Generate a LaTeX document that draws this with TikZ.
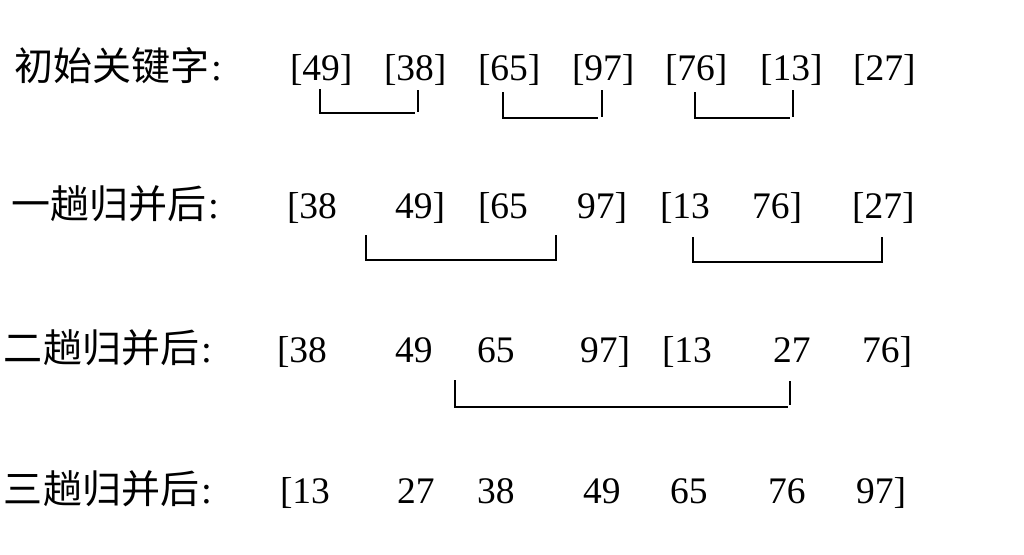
\documentclass[tikz,border=0pt]{standalone}
\usepackage{fontspec}
\setmainfont{Liberation Serif}
\newfontfamily\cjk{Noto Sans CJK SC}
\begin{document}
\begin{tikzpicture}[x=1pt,y=-1pt,
  num/.style={anchor=base west,inner sep=0pt,outer sep=0pt,font=\fontsize{37.5}{40}\selectfont},
  lab/.style={anchor=base west,inner sep=0pt,outer sep=0pt,font=\fontsize{39}{42}\selectfont\cjk},
  brk/.style={draw=black,line width=1.3pt}]
\useasboundingbox[fill=white] (0,0) rectangle (1024,554);
% row 1
\node[lab] (l1) at (14,80) {初始关键字\hspace{2pt}{\rmfamily:}};
\node[num] (r1a) at (290,80) {[49]};
\node[num] (r1b) at (384,80) {[38]};
\node[num] (r1c) at (478,80) {[65]};
\node[num] (r1d) at (572,80) {[97]};
\node[num] (r1e) at (665,80) {[76]};
\node[num] (r1f) at (760,80) {[13]};
\node[num] (r1g) at (853,80) {[27]};
% row 2
\node[lab] (l2) at (11,218) {一趟归并后\hspace{2pt}{\rmfamily:}};
\node[num] (r2a) at (287,218) {[38};
\node[num] (r2b) at (395,218) {49]};
\node[num] (r2c) at (478,218) {[65};
\node[num] (r2d) at (577,218) {97]};
\node[num] (r2e) at (660,218) {[13};
\node[num] (r2f) at (752,218) {76]};
\node[num] (r2g) at (852,218) {[27]};
% row 3
\node[lab] (l3) at (4,362) {二趟归并后\hspace{2pt}{\rmfamily:}};
\node[num] (r3a) at (277,362) {[38};
\node[num] (r3b) at (395,362) {49};
\node[num] (r3c) at (477,362) {65};
\node[num] (r3d) at (580,362) {97]};
\node[num] (r3e) at (662,362) {[13};
\node[num] (r3f) at (773,362) {27};
\node[num] (r3g) at (862,362) {76]};
% row 4
\node[lab] (l4) at (4,503) {三趟归并后\hspace{2pt}{\rmfamily:}};
\node[num] (r4a) at (280,503) {[13};
\node[num] (r4b) at (397,503) {27};
\node[num] (r4c) at (477,503) {38};
\node[num] (r4d) at (583,503) {49};
\node[num] (r4e) at (670,503) {65};
\node[num] (r4f) at (768,503) {76};
\node[num] (r4g) at (856,503) {97]};
% bracket coordinates
\coordinate (b1s) at (320,89);  \coordinate (b1e) at (415,113);
\coordinate (b1t) at (418,90);  \coordinate (b1u) at (418,112);
\coordinate (b2s) at (503,92);  \coordinate (b2e) at (598,118);
\coordinate (b2t) at (602,90);  \coordinate (b2u) at (602,117);
\coordinate (b3s) at (695,92);  \coordinate (b3e) at (790,118);
\coordinate (b3t) at (793,90);  \coordinate (b3u) at (793,117);
\coordinate (b4s) at (366,235); \coordinate (b4e) at (556,235);
\coordinate (b5s) at (693,237); \coordinate (b5e) at (882,237);
\coordinate (b6s) at (455,380); \coordinate (b6e) at (788,407);
\coordinate (b6t) at (790,381); \coordinate (b6u) at (790,405);
% brackets
\draw[brk] (b1s) |- (b1e); \draw[brk] (b1t) -- (b1u);
\draw[brk] (b2s) |- (b2e); \draw[brk] (b2t) -- (b2u);
\draw[brk] (b3s) |- (b3e); \draw[brk] (b3t) -- (b3u);
\draw[brk] (b4s) -- ++(0,25) -| (b4e);
\draw[brk] (b5s) -- ++(0,25) -| (b5e);
\draw[brk] (b6s) |- (b6e); \draw[brk] (b6t) -- (b6u);
\end{tikzpicture}
\end{document}
